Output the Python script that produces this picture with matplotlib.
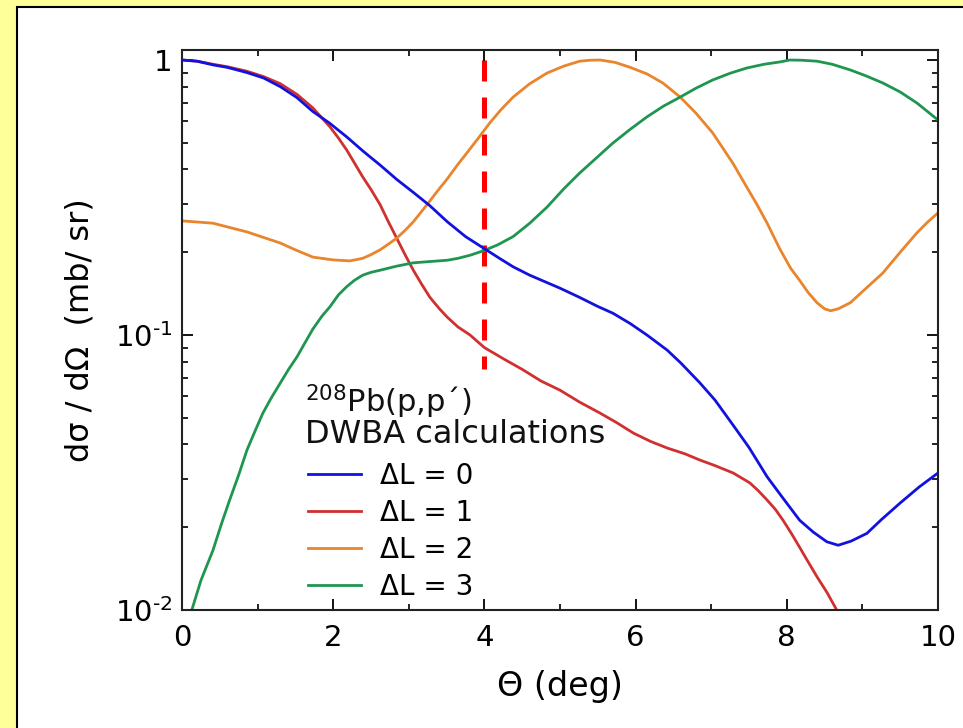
# DWBA angular distributions for 208Pb(p,p') - recreated on a log axis

import matplotlib
matplotlib.use("Agg")
import matplotlib.pyplot as plt
from matplotlib.patches import Rectangle
from matplotlib.ticker import FixedLocator, FixedFormatter, NullFormatter

plt.rcParams['font.family'] = ['DejaVu Sans']
plt.rcParams['mathtext.fontset'] = 'dejavusans'

# values (theta in deg, cross section normalised)
theta_L0 = [0, 0.2, 0.41, 0.6, 0.86, 1.08, 1.30, 1.52, 1.73, 1.95, 2.18, 2.4, 2.62, 2.84,
            3.06, 3.28, 3.51, 3.75, 4.0, 4.2, 4.38, 4.6, 4.83, 5.0, 5.26, 5.5, 5.70, 5.93,
            6.15, 6.42, 6.6, 6.85, 7.05, 7.29, 7.5, 7.74, 7.95, 8.17, 8.35, 8.53, 8.68,
            8.85, 9.06, 9.25, 9.50, 9.75, 10]
xs_L0 = [1.0, 0.99, 0.96, 0.94, 0.90, 0.86, 0.80, 0.73, 0.65, 0.59, 0.525, 0.465, 0.415, 0.368,
         0.33, 0.295, 0.258, 0.228, 0.206, 0.19, 0.177, 0.165, 0.155, 0.148, 0.137, 0.127, 0.120,
         0.11, 0.100, 0.088, 0.079, 0.067, 0.058, 0.047, 0.039, 0.0305, 0.0255, 0.0212, 0.0192,
         0.0177, 0.0172, 0.0178, 0.019, 0.0213, 0.0245, 0.028, 0.0315]

theta_L1 = [0, 0.2, 0.41, 0.6, 0.86, 1.08, 1.30, 1.52, 1.73, 1.96, 2.07, 2.18, 2.39, 2.5,
            2.62, 2.73, 2.84, 2.95, 3.06, 3.17, 3.28, 3.4, 3.51, 3.65, 3.81, 4.0, 4.25, 4.5,
            4.75, 5.0, 5.26, 5.53, 5.75, 5.97, 6.2, 6.42, 6.65, 6.85, 7.05, 7.29, 7.51, 7.62,
            7.74, 7.85, 7.95, 8.06, 8.17, 8.28, 8.40, 8.53, 8.66]
xs_L1 = [1.0, 0.99, 0.965, 0.945, 0.91, 0.87, 0.82, 0.75, 0.67, 0.57, 0.52, 0.47, 0.376, 0.338,
         0.298, 0.258, 0.225, 0.196, 0.172, 0.153, 0.137, 0.125, 0.116, 0.107, 0.100, 0.090, 0.082,
         0.075, 0.068, 0.063, 0.057, 0.052, 0.048, 0.044, 0.041, 0.0388, 0.037, 0.0351, 0.0335,
         0.0315, 0.029, 0.0272, 0.0251, 0.0232, 0.0212, 0.019, 0.0169, 0.015, 0.0132, 0.0116, 0.0100]

theta_L2 = [0, 0.41, 0.86, 1.30, 1.5, 1.73, 2.0, 2.22, 2.39, 2.5, 2.62, 2.73, 2.84, 2.95, 3.06,
            3.25, 3.38, 3.51, 3.64, 3.77, 3.92, 4.07, 4.22, 4.38, 4.6, 4.83, 5.05, 5.26, 5.4,
            5.53, 5.73, 5.93, 6.15, 6.36, 6.59, 6.8, 7.02, 7.15, 7.29, 7.47, 7.6, 7.74, 7.91,
            8.05, 8.17, 8.28, 8.40, 8.50, 8.58, 8.68, 8.84, 9.05, 9.27, 9.5, 9.72, 9.86, 10]
xs_L2 = [0.26, 0.255, 0.237, 0.216, 0.204, 0.192, 0.1875, 0.186, 0.19, 0.196, 0.204, 0.214, 0.225,
         0.24, 0.258, 0.30, 0.334, 0.37, 0.414, 0.46, 0.52, 0.59, 0.66, 0.733, 0.82, 0.897, 0.95,
         0.99, 0.998, 1.0, 0.98, 0.94, 0.89, 0.825, 0.733, 0.64, 0.543, 0.48, 0.42, 0.345, 0.30,
         0.255, 0.205, 0.175, 0.158, 0.143, 0.131, 0.1245, 0.1225, 0.1245, 0.131, 0.148, 0.168,
         0.2, 0.235, 0.257, 0.278]

theta_L3 = [0.13, 0.25, 0.41, 0.52, 0.63, 0.75, 0.86, 0.97, 1.07, 1.18, 1.30, 1.41, 1.52, 1.62,
            1.73, 1.85, 1.96, 2.07, 2.18, 2.28, 2.39, 2.5, 2.62, 2.84, 3.06, 3.28, 3.51, 3.65,
            3.81, 4.0, 4.18, 4.38, 4.6, 4.83, 5.05, 5.26, 5.48, 5.70, 5.93, 6.15, 6.37, 6.59,
            6.8, 7.02, 7.25, 7.47, 7.7, 7.91, 8.04, 8.2, 8.40, 8.6, 8.84, 9.05, 9.27, 9.5,
            9.72, 9.86, 10]
xs_L3 = [0.0100, 0.0128, 0.0165, 0.0205, 0.0251, 0.031, 0.0382, 0.045, 0.052, 0.059, 0.0669,
         0.075, 0.0832, 0.093, 0.105, 0.117, 0.127, 0.14, 0.15, 0.158, 0.165, 0.169, 0.172,
         0.178, 0.183, 0.185, 0.187, 0.19, 0.195, 0.203, 0.213, 0.228, 0.255, 0.292, 0.34,
         0.388, 0.44, 0.499, 0.56, 0.621, 0.68, 0.733, 0.79, 0.846, 0.895, 0.935, 0.965, 0.984,
         1.0, 0.998, 0.99, 0.965, 0.92, 0.875, 0.825, 0.765, 0.698, 0.65, 0.605]

series_labels = ['ΔL = 0', 'ΔL = 1', 'ΔL = 2', 'ΔL = 3']
series_colors = ['#1212e0', '#d03030', '#e8852d', '#1e9650']

# vertical marker at 4 deg
cut_theta = 4.0
cut_top = 1.0
cut_bottom = 0.075

x_major = [0, 2, 4, 6, 8, 10]
x_minor = [1, 3, 5, 7, 9]
y_major = [0.01, 0.1, 1]
y_major_labels = ['$10^{‐2}$', '$10^{‐1}$', '1']


W, H = 963, 728
fig = plt.figure(figsize=(W / 100, H / 100), dpi=100)
fig.patch.set_facecolor('#ffff99')

# white slide panel with black frame
panel = Rectangle((17 / W, -0.02), 1.0, (H - 7) / H + 0.02, transform=fig.transFigure,
                  facecolor='white', edgecolor='black', linewidth=1.5, zorder=-5)
fig.add_artist(panel)

ax = fig.add_axes([182 / W, (H - 610) / H, 756 / W, 560 / H])
ax.set_facecolor('white')
ax.set_yscale('log')
ax.set_xlim(0, 10)
ax.set_ylim(0.01, 10 ** (10 / 275))

ax.plot([cut_theta, cut_theta], [cut_top, cut_bottom], color='#ff0000', linewidth=3.6,
        dashes=(4.2, 3.2), zorder=1)

curves = [(theta_L0, xs_L0), (theta_L1, xs_L1), (theta_L2, xs_L2), (theta_L3, xs_L3)]
handles = []
for (t, v), lab, col in zip(curves, series_labels, series_colors):
    h, = ax.plot(t, v, color=col, linewidth=2.0, label=lab, zorder=2,
                 solid_joinstyle='round')
    handles.append(h)
# blue drawn on top like in the original
handles[0].set_zorder(3)

ax.xaxis.set_major_locator(FixedLocator(x_major))
ax.xaxis.set_minor_locator(FixedLocator(x_minor))
ax.yaxis.set_major_locator(FixedLocator(y_major))
ax.yaxis.set_major_formatter(FixedFormatter(y_major_labels))
ax.yaxis.set_minor_formatter(NullFormatter())

ax.tick_params(which='both', direction='in', top=True, right=True, labelsize=21)
ax.tick_params(axis='x', which='major', pad=10)
ax.tick_params(axis='y', which='major', pad=7)
ax.tick_params(which='major', length=8, width=1.3)
ax.tick_params(which='minor', length=4, width=1.2)
for sp in ax.spines.values():
    sp.set_linewidth(1.5)
    sp.set_color('#222222')

ax.set_xlabel('Θ (deg)', fontsize=24, labelpad=13)
ax.set_ylabel('dσ / dΩ  (mb/ sr)', fontsize=23)
ax.yaxis.set_label_coords(-0.115, 0.5)

ax.text(0.163, 0.352, '$^{208}$Pb(p,p´)', transform=ax.transAxes, fontsize=22,
        va='baseline', ha='left', color='#111111')
ax.text(0.163, 0.298, 'DWBA calculations', transform=ax.transAxes, fontsize=23,
        va='baseline', ha='left', color='#111111')

ax.legend(handles=handles, loc='upper left', bbox_to_anchor=(0.1667, 0.265), frameon=False,
          fontsize=20, handlelength=1.9, handletextpad=0.7, labelspacing=0.33,
          borderpad=0, borderaxespad=0)

fig.savefig('out.png', dpi=100, facecolor=fig.get_facecolor())
